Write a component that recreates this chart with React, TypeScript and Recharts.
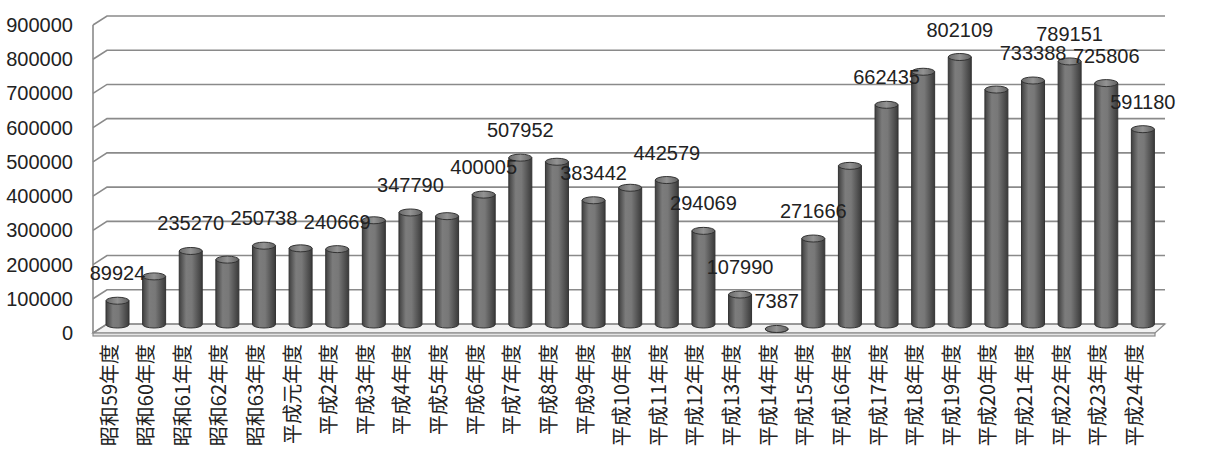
import React from "react";
import { BarChart, Bar, XAxis, YAxis, CartesianGrid, LabelList } from "recharts";

const years = [
  "昭和59年度", "昭和60年度", "昭和61年度", "昭和62年度", "昭和63年度",
  "平成元年度", "平成2年度", "平成3年度", "平成4年度", "平成5年度",
  "平成6年度", "平成7年度", "平成8年度", "平成9年度", "平成10年度",
  "平成11年度", "平成12年度", "平成13年度", "平成14年度", "平成15年度",
  "平成16年度", "平成17年度", "平成18年度", "平成19年度", "平成20年度",
  "平成21年度", "平成22年度", "平成23年度", "平成24年度",
];

const counts = [
  89924, 161000, 235270, 210000, 250738,
  243000, 240669, 325000, 347790, 337000,
  400005, 507952, 496000, 383442, 420000,
  442579, 294069, 107990, 7387, 271666,
  484000, 662435, 759000, 802109, 707000,
  733388, 789151, 725806, 591180,
];

// years whose value is printed above the column
const labelledYears = [
  "昭和59年度", "昭和61年度", "昭和63年度", "平成2年度", "平成4年度",
  "平成6年度", "平成7年度", "平成9年度", "平成11年度", "平成12年度",
  "平成13年度", "平成14年度", "平成15年度", "平成17年度", "平成19年度",
  "平成21年度", "平成22年度", "平成23年度", "平成24年度",
];

const yTicks = [0, 100000, 200000, 300000, 400000, 500000, 600000, 700000, 800000, 900000];

const data = years.map((year, i) => ({
  year,
  count: counts[i],
  label: labelledYears.includes(year) ? counts[i] : null,
}));

// layout
const WIDTH = 1205;
const HEIGHT = 450;
const PLOT_TOP = 25;
const PLOT_LEFT = 93;
const PLOT_RIGHT = 1155;
const PLOT_BOTTOM = 333;

// fake depth: back wall and column offsets from the front plane
const WALL_DX = 14;
const WALL_DX_RIGHT = 10;
const WALL_DY = -9;
const BAR_DX = 6;
const BAR_DY = -5;
const CAP_RY = 3.5;

const GRID = "#8a8a8a";
const TEXT = "#222";
const NUM_FONT = "'Liberation Sans', Arial, sans-serif";
const JP_FONT = "'Noto Sans CJK JP', sans-serif";

const Cylinder = (props: any) => {
  const { x, y, width, height } = props;
  if (x == null || y == null) return null;
  const left = x + BAR_DX;
  const right = left + width;
  const cx = left + width / 2;
  const rx = width / 2;
  const top = y + BAR_DY;
  const bottom = y + height + BAR_DY;
  const capC = top + CAP_RY;
  const botC = Math.max(bottom - CAP_RY, capC);
  return (
    <g>
      <path
        d={`M${left},${capC} L${left},${botC} A${rx},${CAP_RY} 0 0 0 ${right},${botC} L${right},${capC} Z`}
        fill="url(#cylBody)"
        stroke="#333"
        strokeWidth={1}
      />
      <ellipse cx={cx} cy={capC} rx={rx} ry={CAP_RY} fill="url(#cylCap)" stroke="#333" strokeWidth={1} />
    </g>
  );
};

const renderValue = (props: any) => {
  const { x, y, width, value } = props;
  if (value == null) return null;
  return (
    <text
      x={x + width / 2 + BAR_DX}
      y={y + BAR_DY - 17}
      textAnchor="middle"
      fontSize={20}
      fontFamily={NUM_FONT}
      fill={TEXT}
    >
      {value}
    </text>
  );
};

const renderGridLine = (props: any) => {
  const { x1, x2, y1, key } = props;
  const isFloor = Math.abs(y1 - PLOT_BOTTOM) < 0.5;
  return (
    <g key={key}>
      {isFloor && (
        <>
          <polygon
            points={`${x1},${y1} ${x1 + WALL_DX},${y1 + WALL_DY} ${x2 + WALL_DX_RIGHT},${y1 + WALL_DY} ${x2},${y1}`}
            fill="#f2f2f2"
            stroke={GRID}
            strokeWidth={1.2}
          />
          <rect x={x1} y={y1} width={x2 - x1} height={3} fill="#e4e4e4" stroke={GRID} strokeWidth={1.2} />
        </>
      )}
      <polyline
        points={`${x1},${y1} ${x1 + WALL_DX},${y1 + WALL_DY} ${x2 + WALL_DX_RIGHT},${y1 + WALL_DY}`}
        fill="none"
        stroke={GRID}
        strokeWidth={1.6}
      />
    </g>
  );
};

const YTick = (props: any) => {
  const { y, payload } = props;
  return (
    <text x={73} y={y} dy={7} textAnchor="end" fontSize={20} fontFamily={NUM_FONT} fill={TEXT}>
      {payload.value}
    </text>
  );
};

const XTick = (props: any) => {
  const { x, payload } = props;
  return (
    <text
      transform={`translate(${x - 2}, ${PLOT_BOTTOM + 11}) rotate(-90)`}
      textAnchor="end"
      dy="0.36em"
      fontSize={20}
      fontFamily={JP_FONT}
      fill={TEXT}
    >
      {payload.value}
    </text>
  );
};

export default function App() {
  return (
    <div style={{ position: "absolute", left: 0, top: 0, width: WIDTH, height: HEIGHT, background: "#fff" }}>
      <BarChart
        width={WIDTH}
        height={HEIGHT}
        data={data}
        margin={{ top: PLOT_TOP, right: WIDTH - PLOT_RIGHT, bottom: 0, left: 0 }}
        barSize={23}
      >
        <defs>
          <linearGradient id="cylBody" x1="0" y1="0" x2="1" y2="0">
            <stop offset="0%" stopColor="#404040" />
            <stop offset="30%" stopColor="#7c7c7c" />
            <stop offset="55%" stopColor="#787878" />
            <stop offset="100%" stopColor="#3a3a3a" />
          </linearGradient>
          <linearGradient id="cylCap" x1="0" y1="0" x2="1" y2="0">
            <stop offset="0%" stopColor="#6a6a6a" />
            <stop offset="50%" stopColor="#939393" />
            <stop offset="100%" stopColor="#606060" />
          </linearGradient>
        </defs>
        <CartesianGrid vertical={false} horizontal={renderGridLine} />
        <XAxis
          dataKey="year"
          interval={0}
          axisLine={false}
          tickLine={false}
          height={HEIGHT - PLOT_BOTTOM}
          tick={<XTick />}
        />
        <YAxis
          domain={[0, 900000]}
          ticks={yTicks}
          interval={0}
          width={PLOT_LEFT}
          axisLine={{ stroke: GRID, strokeWidth: 1.6 }}
          tickLine={false}
          tick={<YTick />}
        />
        <Bar dataKey="count" shape={Cylinder} isAnimationActive={false}>
          <LabelList dataKey="label" content={renderValue} />
        </Bar>
      </BarChart>
    </div>
  );
}
